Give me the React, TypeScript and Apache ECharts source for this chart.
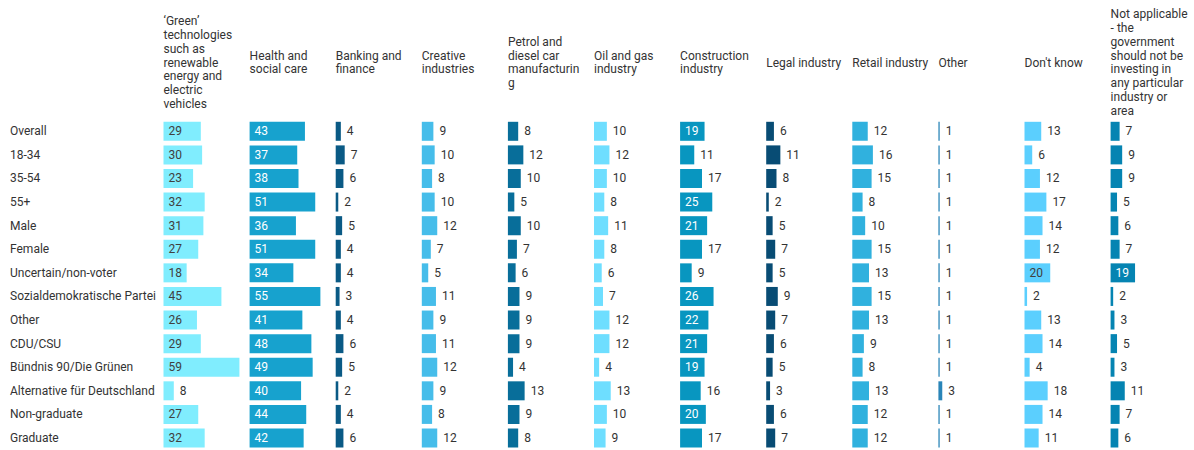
import React, { useEffect, useRef } from "react";
import * as echarts from "echarts";

const rows = [
  "Overall",
  "18-34",
  "35-54",
  "55+",
  "Male",
  "Female",
  "Uncertain/non-voter",
  "Sozialdemokratische Partei",
  "Other",
  "CDU/CSU",
  "Bündnis 90/Die Grünen",
  "Alternative für Deutschland",
  "Non-graduate",
  "Graduate",
];

const columns = [
  "‘Green’\ntechnologies\nsuch as\nrenewable\nenergy and\nelectric\nvehicles",
  "Health and\nsocial care",
  "Banking and\nfinance",
  "Creative\nindustries",
  "Petrol and\ndiesel car\nmanufacturin\ng",
  "Oil and gas\nindustry",
  "Construction\nindustry",
  "Legal industry",
  "Retail industry",
  "Other",
  "Don't know",
  "Not applicable\n- the\ngovernment\nshould not be\ninvesting in\nany particular\nindustry or\narea",
];

const green = [29, 30, 23, 32, 31, 27, 18, 45, 26, 29, 59, 8, 27, 32];
const health = [43, 37, 38, 51, 36, 51, 34, 55, 41, 48, 49, 40, 44, 42];
const banking = [4, 7, 6, 2, 5, 4, 4, 3, 4, 6, 5, 2, 4, 6];
const creative = [9, 10, 8, 10, 12, 7, 5, 11, 9, 11, 12, 9, 8, 12];
const petrol = [8, 12, 10, 5, 10, 7, 6, 9, 9, 9, 4, 13, 9, 8];
const oilGas = [10, 12, 10, 8, 11, 8, 6, 7, 12, 12, 4, 13, 10, 9];
const construction = [19, 11, 17, 25, 21, 17, 9, 26, 22, 21, 19, 16, 20, 17];
const legal = [6, 11, 8, 2, 5, 7, 5, 9, 7, 6, 5, 3, 6, 7];
const retail = [12, 16, 15, 8, 10, 15, 13, 15, 13, 9, 8, 13, 12, 12];
const otherIndustry = [1, 1, 1, 1, 1, 1, 1, 1, 1, 1, 1, 3, 1, 1];
const dontKnow = [13, 6, 12, 17, 14, 12, 20, 2, 13, 14, 4, 18, 14, 11];
const notApplicable = [7, 9, 9, 5, 6, 7, 19, 2, 3, 5, 3, 11, 7, 6];

const seriesValues = [
  green, health, banking, creative, petrol, oilGas,
  construction, legal, retail, otherIndustry, dontKnow, notApplicable,
];

const barColors = [
  "#80EDFE", "#17A2CE", "#0A5A85", "#46BDEA", "#086E9A", "#6EDEFF",
  "#0896C0", "#084C74", "#30B1DE", "#2A85B8", "#5BCFFE", "#0584B2",
];
const insideTextColors = [
  "#404040", "#ffffff", "#ffffff", "#404040", "#ffffff", "#404040",
  "#ffffff", "#ffffff", "#404040", "#ffffff", "#404040", "#ffffff",
];
// minimum value for which the label sits inside the bar, per column
const insideThreshold = [18, 19, 19, 19, 19, 19, 19, 19, 19, 19, 19, 19];

const FONT = "Roboto, 'Noto Sans', sans-serif";
const COL_START = 163.5;
const COL_PITCH = 86.1;
const COL_W = 82;
const PX_PER_UNIT = 1.287;
const TOP = 119.5;
const BOTTOM_Y = 449.8;

export default function App() {
  const ref = useRef<HTMLDivElement>(null);
  useEffect(() => {
    document.body.style.margin = "0";
    const chart = echarts.init(ref.current!, null, { renderer: "svg" });
    const grids: any[] = [];
    const xAxes: any[] = [];
    const yAxes: any[] = [];
    const series: any[] = [];
    const graphics: any[] = [];
    seriesValues.forEach((vals, i) => {
      const left = COL_START + i * COL_PITCH;
      grids.push({
        left,
        top: TOP,
        width: COL_W,
        height: BOTTOM_Y - TOP,
        containLabel: false,
      });
      xAxes.push({
        type: "value",
        gridIndex: i,
        min: 0,
        max: COL_W / PX_PER_UNIT,
        show: false,
      });
      yAxes.push({
        type: "category",
        gridIndex: i,
        data: rows,
        inverse: true,
        axisLine: { show: false },
        axisTick: { show: false },
        splitLine: { show: false },
        axisLabel:
          i === 0
            ? {
                show: true,
                align: "left",
                margin: left - 10,
                color: "#333333",
                fontSize: 12,
                fontFamily: FONT,
              }
            : { show: false },
      });
      series.push({
        type: "bar",
        xAxisIndex: i,
        yAxisIndex: i,
        barWidth: 19,
        data: vals.map((v) => ({
          value: v,
          label:
            v >= insideThreshold[i]
              ? {
                  position: "insideLeft",
                  distance: 5,
                  color: insideTextColors[i],
                }
              : { position: "right", distance: 6, color: "#333333" },
        })),
        itemStyle: { color: barColors[i] },
        label: {
          show: true,
          fontSize: 12,
          fontFamily: FONT,
        },
        silent: true,
      });
      graphics.push({
        type: "text",
        x: left,
        y: 62.5,
        style: {
          text: columns[i],
          fill: "#333333",
          font: `12px ${FONT}`,
          lineHeight: 13.8,
          verticalAlign: "middle",
          align: "left",
        },
      });
    });
    chart.setOption({
      animation: false,
      backgroundColor: "#ffffff",
      grid: grids,
      xAxis: xAxes,
      yAxis: yAxes,
      series,
      graphic: graphics,
    });
    return () => chart.dispose();
  }, []);
  return <div ref={ref} style={{ width: 1194, height: 450 }} />;
}
